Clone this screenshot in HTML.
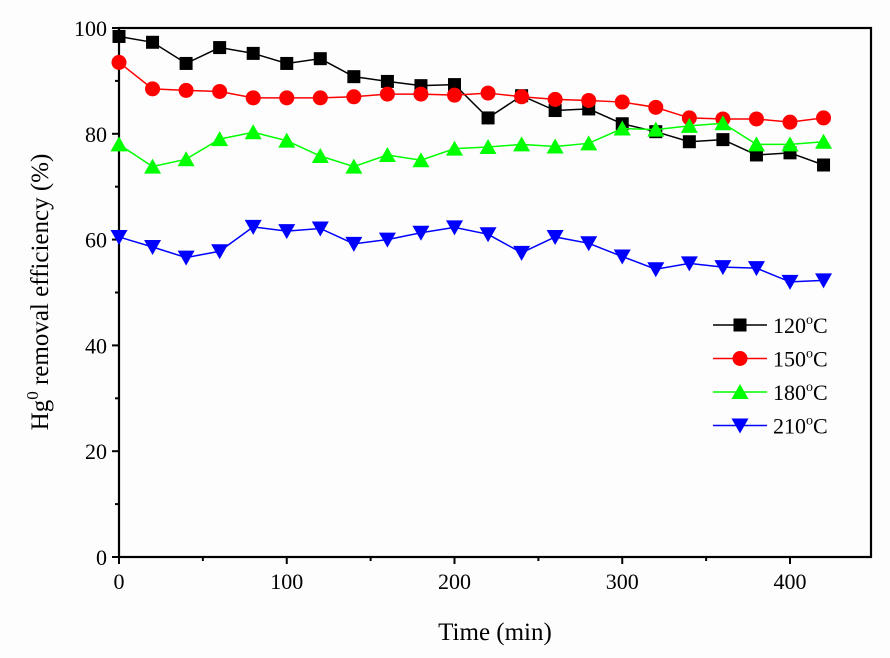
<!DOCTYPE html>
<html><head><meta charset="utf-8"><style>
body{margin:0;background:#fdfdfd;}
svg{display:block;font-family:"Liberation Serif",serif;}
</style></head><body>
<svg id="chart" width="890" height="658"></svg>
<script>
const times=[0,20,40,60,80,100,120,140,160,180,200,220,240,260,280,300,320,340,360,380,400,420];
const s120=[98.4,97.3,93.3,96.3,95.2,93.3,94.2,90.8,89.9,89.1,89.3,83.0,87.2,84.4,84.7,81.9,80.4,78.5,78.9,76.0,76.4,74.1];
const s150=[93.5,88.5,88.2,88,86.8,86.8,86.8,87,87.5,87.5,87.3,87.7,87,86.5,86.3,86,85,83,82.8,82.8,82.2,83];
const s180=[78,73.8,75.2,79,80.3,78.7,75.8,73.8,76,75,77.2,77.5,78,77.6,78.2,81,80.8,81.5,82,78,78,78.5];
const s210=[60.5,58.6,56.6,57.8,62.4,61.6,62.1,59.2,60,61.3,62.3,61,57.5,60.5,59.3,56.8,54.4,55.5,54.8,54.6,52,52.3];
const xTicks=[0,100,200,300,400];
const yTicks=[0,20,40,60,80,100];
const seriesNames=["120°C","150°C","180°C","210°C"];
const L=119,R=871,T=28,B=557;
const X=v=>L+v*(790-119)/400;
const Y=v=>B-v*(B-T)/100;
const NS="http://www.w3.org/2000/svg";
const svg=document.getElementById('chart');
function mk(t,a,p){const e=document.createElementNS(NS,t);for(const k in a)e.setAttribute(k,a[k]);(p||svg).appendChild(e);return e;}
// axes box
const frame=mk('rect',{x:L,y:T,width:R-L,height:B-T,fill:'none',stroke:'#000','stroke-width':2.2});


for(let v=0;v<=440;v+=50){const big=v%100===0;mk('line',{x1:X(v),x2:X(v),y1:B,y2:B+(big?7:4),stroke:'#000','stroke-width':2});}
xTicks.forEach(v=>{const t=mk('text',{x:X(v),y:B+32,'text-anchor':'middle','font-size':22});t.textContent=v;

});
for(let v=0;v<=100;v+=10){const big=v%20===0;mk('line',{x1:L,x2:L-(big?7:4),y1:Y(v),y2:Y(v),stroke:'#000','stroke-width':2});}
yTicks.forEach(v=>{const t=mk('text',{x:L-12,y:Y(v)+8,'text-anchor':'end','font-size':22});t.textContent=v;

});
const xt=mk('text',{x:495,y:640,'text-anchor':'middle','font-size':25});xt.textContent='Time (min)';


const yt=mk('text',{transform:'translate(48,292) rotate(-90)','text-anchor':'middle','font-size':25});
yt.innerHTML='Hg<tspan dy="-10" font-size="17">0</tspan><tspan dy="10"> removal efficiency (%)</tspan>';


function marker(kind,x,y,c,g){
 if(kind==='sq')return mk('rect',{x:x-6.5,y:y-6.5,width:13,height:13,fill:c},g);
 if(kind==='ci')return mk('circle',{cx:x,cy:y,r:7.5,fill:c},g);
 if(kind==='up')return mk('polygon',{points:`${x},${y-8} ${x-8.5},${y+7} ${x+8.5},${y+7}`,fill:c},g);
 return mk('polygon',{points:`${x},${y+8} ${x-8.5},${y-7} ${x+8.5},${y-7}`,fill:c},g);
}
const all=[[s120,'#000','sq'],[s150,'#f00','ci'],[s180,'#0f0','up'],[s210,'#00f','dn']];
all.forEach(([d,c,k],i)=>{
 const g=mk('g',{});
 
 
 mk('polyline',{points:d.map((v,j)=>X(times[j])+','+Y(v)).join(' '),fill:'none',stroke:c,'stroke-width':1.5},g);
 d.forEach((v,j)=>{const m=marker(k,X(times[j]),Y(v),c,g);
 
 });
 const ly=325+i*33.5;
 const lg=mk('g',{});
 
 
 mk('line',{x1:713,x2:767,y1:ly,y2:ly,stroke:c,'stroke-width':1.5},lg);
 marker(k,740,ly,c,lg);
 const t=mk('text',{x:773,y:ly+8,'font-size':22},lg);
 t.innerHTML=seriesNames[i].slice(0,3)+'<tspan dy="-9" font-size="14">o</tspan><tspan dy="9">C</tspan>';
});
</script>
</body></html>
